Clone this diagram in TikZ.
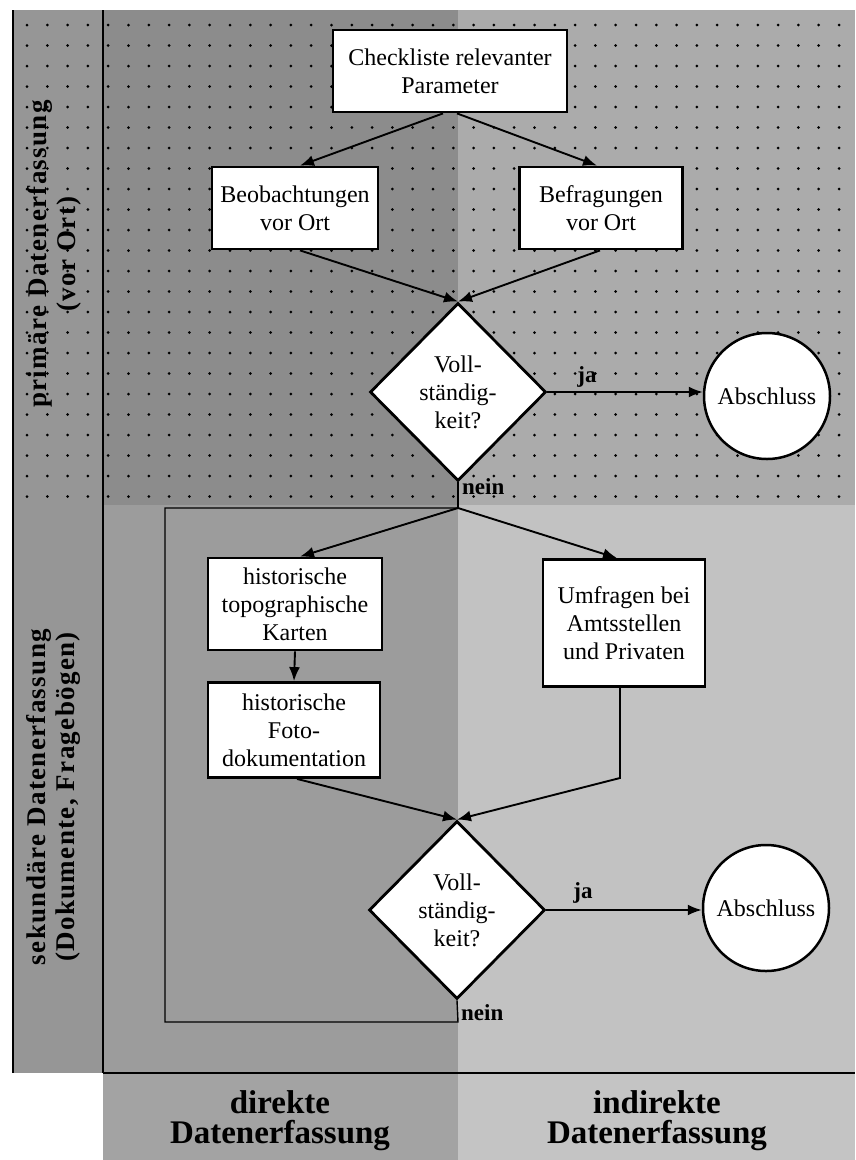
\documentclass[tikz,border=0pt]{standalone}
\usepackage{fontspec}
\setmainfont{Liberation Serif}
\newfontfamily\stripfont[LetterSpace=5]{Liberation Serif Bold}
\usetikzlibrary{shapes.geometric,arrows.meta}
\definecolor{ulc}{gray}{0.55}
\definecolor{urc}{gray}{0.67}
\definecolor{llc}{gray}{0.61}
\definecolor{lrc}{gray}{0.76}
\definecolor{stripc}{gray}{0.59}
\definecolor{bandl}{gray}{0.64}
\definecolor{bandr}{gray}{0.77}
\begin{document}
\begin{tikzpicture}[x=1pt,y=-1pt,
  nodefont/.style={font=\fontsize{24}{28}\selectfont},
  box/.style={draw, line width=2.8pt, fill=white, align=center, nodefont, inner sep=0pt},
  decision/.style={diamond, draw, line width=2.8pt, fill=white, align=center, nodefont, inner sep=0pt, minimum width=176pt, minimum height=178pt},
  endc/.style={circle, draw, line width=2.5pt, fill=white, nodefont, inner sep=0pt, minimum size=126pt},
  arr/.style={line width=1.9pt, -{Latex[length=14pt,width=11pt]}},
  conn/.style={line width=1.9pt},
  loopline/.style={line width=1.4pt},
  yn/.style={font=\bfseries\fontsize{23}{26}\selectfont, inner sep=0pt},
  striplbl/.style={font=\stripfont\fontsize{27}{29}\selectfont, align=center, rotate=90, inner sep=0pt},
  bandlbl/.style={font=\bfseries\fontsize{33}{30}\selectfont, align=center, inner sep=0pt},
  border/.style={line width=1.4pt}]
\useasboundingbox (0,0) rectangle (855,1160);
% backgrounds
\fill[ulc] (103,10) rectangle (458,505);
\fill[urc] (458,10) rectangle (855,505);
\fill[llc] (103,505) rectangle (458,1073);
\fill[lrc] (458,505) rectangle (855,1073);
\fill[stripc] (13,10) rectangle (103,1073);
\fill[bandl] (103,1073) rectangle (458,1160);
\fill[bandr] (458,1073) rectangle (855,1160);
% dots
\foreach \i in {0,...,40} {
  \foreach \j in {0,...,23} {
    \fill (27+20.3*\i, 25+20.5*\j) circle (1.5pt);
  }
}
% borders
\draw[border] (13,10) -- (13,1073);
\draw[border] (103,10) -- (103,1073);
\draw[border] (103,1073) -- (855,1073);
% strip labels
\node[striplbl] (prim) at (54,254) {primäre Datenerfassung\\(vor Ort)};
\node[striplbl] (sek) at (53,797) {sekundäre Datenerfassung\\(Dokumente, Fragebögen)};
% band labels
\node[bandlbl] (dir) at (280,1121) {direkte\\Datenerfassung};
\node[bandlbl] (indir) at (657,1121) {indirekte\\Datenerfassung};
% nodes
\node[box, minimum width=234pt, minimum height=82pt] (check) at (450,71) {Checkliste relevanter\\Parameter};
\node[box, minimum width=166pt, minimum height=82pt] (beob) at (295,208) {Beobachtungen\\vor Ort};
\node[box, minimum width=163pt, minimum height=82pt] (befr) at (601,208) {Befragungen\\vor Ort};
\node[decision] (d1) at (458,392) {Voll-\\ständig-\\keit?};
\node[endc] (e1) at (767,396) {Abschluss};
\node[box, minimum width=174pt, minimum height=92pt] (karten) at (295,604) {historische\\topographische\\Karten};
\node[box, minimum width=172pt, minimum height=95pt] (foto) at (294,730) {historische\\Foto-\\dokumentation};
\node[box, minimum width=162pt, minimum height=127pt] (umfr) at (624,623) {Umfragen bei\\Amtsstellen\\und Privaten};
\node[decision] (d2) at (457,910) {Voll-\\ständig-\\keit?};
\node[endc] (e2) at (766,908) {Abschluss};
% labels
\node[yn] (ja1) at (587,377) {ja};
\node[yn] (ja2) at (583,893) {ja};
\node[yn, anchor=west] (nein1) at (462,487) {nein};
\node[yn, anchor=west] (nein2) at (461,1013) {nein};
% connectors
\draw[arr] ([xshift=-7pt]check.south) -- ([xshift=5pt]beob.north);
\draw[arr] ([xshift=7pt]check.south) -- ([xshift=-4pt]befr.north);
\draw[arr] ([xshift=5pt]beob.south) -- (d1.north);
\draw[arr] ([xshift=-1pt]befr.south) -- (d1.north);
\draw[arr] (d1.east) -- (e1.west |- d1.east);
\coordinate (j1) at (458,508);
\draw[conn] (d1.south) -- (j1);
\draw[arr] (j1) -- ([xshift=5pt]karten.north);
\draw[arr] (j1) -- ([xshift=-7pt]umfr.north);
\draw[arr] (karten.south) -- (foto.north);
\draw[arr] ([xshift=3pt]foto.south) -- (d2.north);
\coordinate (bend) at (620,778);
\draw[arr] (umfr.south -| bend) -- (bend) -- (d2.north);
\draw[arr] (d2.east) -- (e2.west |- d2.east);
\coordinate (l1) at (458,1022);
\coordinate (l2) at (165,1022);
\coordinate (l3) at (165,508);
\draw[loopline] (d2.south) -- (l1) -- (l2) -- (l3) -- (j1);
\end{tikzpicture}
\end{document}
